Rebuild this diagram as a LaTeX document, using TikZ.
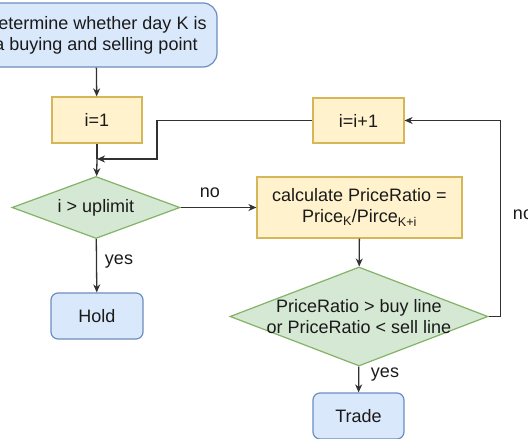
\documentclass[tikz,border=0pt]{standalone}
\usepackage{fontspec}
\setmainfont{Liberation Sans}
\usetikzlibrary{shapes.geometric,arrows.meta}
\definecolor{bluefill}{HTML}{DAE8FC}
\definecolor{bluedraw}{HTML}{6C8EBF}
\definecolor{yelfill}{HTML}{FFF2CC}
\definecolor{yeldraw}{HTML}{D6B656}
\definecolor{grnfill}{HTML}{D5E8D4}
\definecolor{grndraw}{HTML}{82B366}
\definecolor{ink}{HTML}{1A1A1A}
\tikzset{
  base/.style={font=\fontsize{18}{21}\selectfont, text=ink, line width=1.2pt, inner sep=0pt, align=center},
  term/.style={base, draw=bluedraw, fill=bluefill, rounded corners=7pt},
  proc/.style={base, draw=yeldraw, fill=yelfill},
  cond/.style={base, draw=grndraw, fill=grnfill, diamond, aspect=2.6},
  conn/.style={draw=ink!90, line width=1.3pt, -{Stealth[length=8pt,width=7pt,inset=2.5pt]}},
  line/.style={draw=ink!90, line width=1.3pt},
  lbl/.style={font=\fontsize{18}{21}\selectfont, text=ink, inner sep=0pt, align=center}
}
\begin{document}
\begin{tikzpicture}[x=1pt,y=-1pt]
  \useasboundingbox (0,0) rectangle (528,439);
  \clip (0,0) rectangle (528,439);

  % nodes
  \node[term, rounded corners=14pt, minimum width=242pt, minimum height=64pt] (start) at (96,35)
    {Determine whether day K is\\a buying and selling point};
  \node[proc, minimum width=90pt, minimum height=46pt] (one) at (97,120) {i=1};
  \node[proc, minimum width=91pt, minimum height=45pt] (inc) at (358.5,120.5) {i=i+1};
  \node[cond, minimum width=168pt, minimum height=62pt] (lim) at (96,207.5) {i > uplimit};
  \node[proc, minimum width=205pt, minimum height=61pt] (calc) at (359.5,207.5)
    {calculate PriceRatio =\\Price\textsubscript{K}/Pirce\textsubscript{K+i}};
  % the text is wider than the diamond, so it is set as a centred label
  \node[cond, minimum width=258pt, minimum height=99pt,
        label={[lbl]center:{PriceRatio > buy line\\or PriceRatio < sell line}}] (test) at (359,316.5) {};
  \node[term, minimum width=92pt, minimum height=46pt] (hold) at (97,316) {Hold};
  \node[term, minimum width=91pt, minimum height=46pt] (trade) at (358.5,416) {Trade};

  % helper points for the loop back
  \coordinate (join) at (97,159);
  \coordinate (bend) at (157,0);

  % connectors
  \draw[conn] (start) -- (one);
  \draw[line] (one) -- (join);
  \draw[conn] (join) -- (lim);
  \draw[conn] (lim) -- (hold);
  \draw[conn] (lim) -- (calc);
  \draw[conn] (calc) -- (test);
  \draw[conn] (test) -- (trade);
  \draw[conn] (test.east) -- ++(12,0) |- (inc.east);
  \draw[conn] (inc.west) -| (bend |- join) -- (join);

  % labels
  \node[lbl] (nolim) at (210,193) {no};
  \node[lbl] (yeslim) at (119,262) {yes};
  \node[lbl] (notest) at (523,215) {no};
  \node[lbl] (yestest) at (385,375) {yes};
\end{tikzpicture}
\end{document}
